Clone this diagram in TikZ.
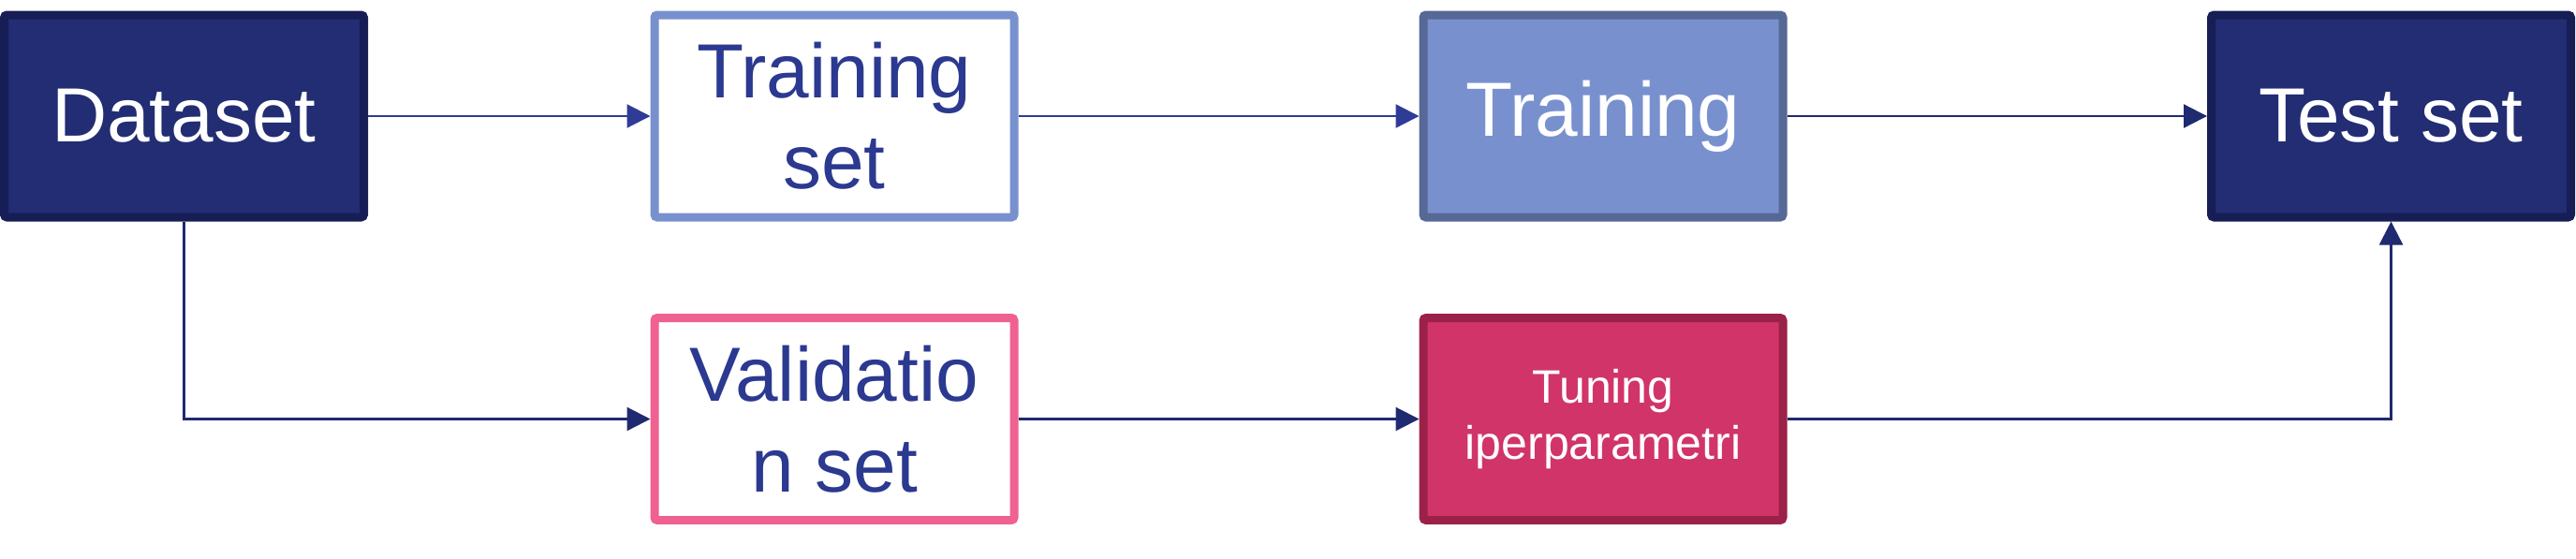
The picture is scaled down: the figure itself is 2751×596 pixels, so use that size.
\documentclass[tikz,border=0pt]{standalone}
\usepackage{fontspec}
\setmainfont{Liberation Sans}
\usetikzlibrary{arrows.meta}
\definecolor{navyfill}{HTML}{222D73}
\definecolor{navyborder}{HTML}{161E55}
\definecolor{lightblue}{HTML}{7891CE}
\definecolor{midborder}{HTML}{566895}
\definecolor{textblue}{HTML}{2B3990}
\definecolor{pinkborder}{HTML}{EF6190}
\definecolor{magfill}{HTML}{D13468}
\definecolor{magborder}{HTML}{9B2148}
\definecolor{arrowtop}{HTML}{2E3C96}
\definecolor{arrowdark}{HTML}{1F2A70}
\begin{document}
\begin{tikzpicture}[x=0.5pt,y=-0.5pt,
  box/.style={rectangle, rounded corners=1.5pt, line width=4.5pt,
    minimum width=192pt, minimum height=108pt, inner sep=0pt, align=center,
    font=\fontsize{41}{48.5}\selectfont},
  darkbox/.style={box, fill=navyfill, draw=navyborder, text=white},
  outlinebox/.style={box, fill=white, draw=lightblue, text=textblue},
  trainbox/.style={box, fill=lightblue, draw=midborder, text=white},
  pinkbox/.style={box, fill=white, draw=pinkborder, text=textblue},
  tunebox/.style={box, fill=magfill, draw=magborder, text=white,
    font=\fontsize{25}{30}\selectfont},
  conn/.style={line width=1.1pt, -{Triangle[length=12.5pt,width=12.5pt]}},
]
\useasboundingbox (0,0) rectangle (2751,596);
\node[darkbox] (dataset) at (196.5,124) {Dataset};
\node[outlinebox] (trainset) at (891,124) {Training\\set};
\node[trainbox] (training) at (1712,124) {Training};
\node[darkbox] (testset) at (2553.5,124) {Test set};
\node[pinkbox] (valset) at (891,447.5) {Validatio\\n set};
\node[tunebox] (tuning) at (1712,447.5) {Tuning\\iperparametri};
\draw[conn, arrowtop] (dataset.east) -- (trainset.west);
\draw[conn, arrowtop] (trainset.east) -- (training.west);
\draw[conn, arrowdark] (training.east) -- (testset.west);
\draw[conn, arrowdark] (dataset.south) |- (valset.west);
\draw[conn, arrowdark] (valset.east) -- (tuning.west);
\draw[conn, arrowdark] (tuning.east) -| (testset.south);
\end{tikzpicture}
\end{document}
